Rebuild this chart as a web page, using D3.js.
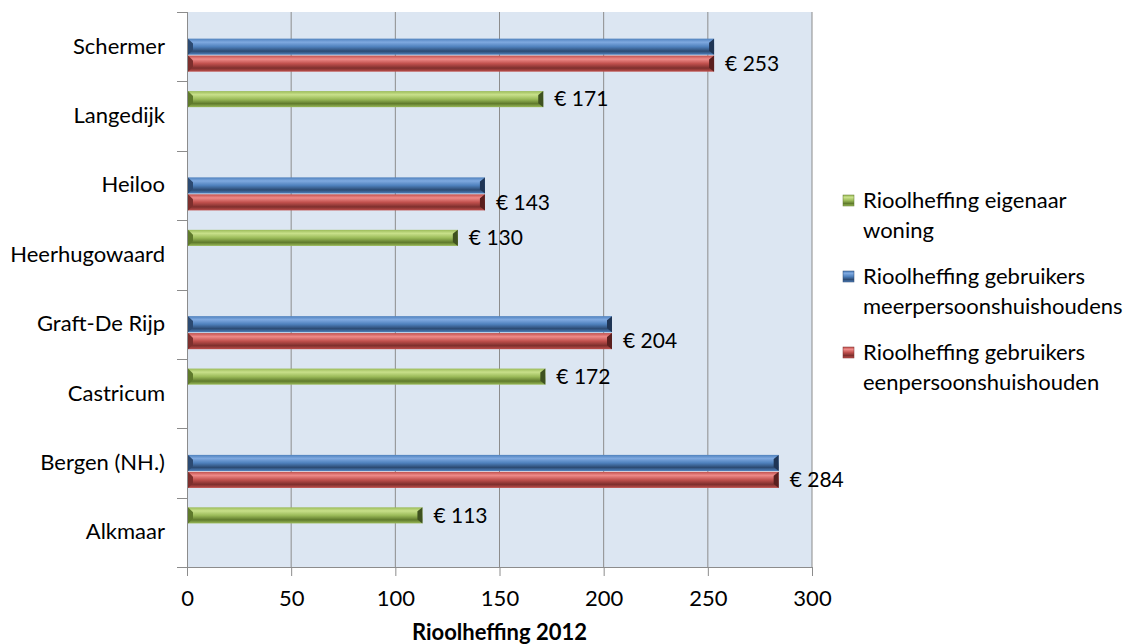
<!DOCTYPE html>
<html>
<head>
<meta charset="utf-8">
<script src="https://cdn.jsdelivr.net/npm/d3@7"></script>
<style>
  body { margin:0; background:#fff; }
  text { font-family: Lato, "Open Sans", sans-serif; fill:#000; }
</style>
</head>
<body>
<div id="chart-area"></div>
<script>
// Data
var categories = ["Schermer", "Langedijk", "Heiloo", "Heerhugowaard", "Graft-De Rijp", "Castricum", "Bergen (NH.)", "Alkmaar"];
var seriesNames = ["Rioolheffing eigenaar woning", "Rioolheffing gebruikers meerpersoonshuishoudens", "Rioolheffing gebruikers eenpersoonshuishouden"];
var eigenaar   = [null, 171, null, 130, null, 172, null, 113];
var meer       = [253, null, 143, null, 204, null, 284, null];
var een        = [253, null, 143, null, 204, null, 284, null];
var xTicks = [0, 50, 100, 150, 200, 250, 300];
var legendLines = [["Rioolheffing eigenaar", "woning"], ["Rioolheffing gebruikers", "meerpersoonshuishoudens"], ["Rioolheffing gebruikers", "eenpersoonshuishouden"]];

var colors = [
  { top:"#c8e08a", mid:"#9bbb59", bot:"#5f7a2c", end:"#3f5220" },
  { top:"#7fa9e0", mid:"#4f81bd", bot:"#2c4a72", end:"#1f3555" },
  { top:"#ee8a88", mid:"#c0504d", bot:"#7d2f2d", end:"#5a1f1e" }
];

var W = 1129, H = 644;
var plot = { left:187, right:812, top:12, bottom:567 };

var svg = d3.select("#chart-area").append("svg")
  .attr("width", W).attr("height", H);

// gradients
var defs = svg.append("defs");
colors.forEach(function(c, i){
  var gr = defs.append("linearGradient").attr("id", "g" + i)
    .attr("x1", 0).attr("y1", 0).attr("x2", 0).attr("y2", 1);
  gr.append("stop").attr("offset", "0%").attr("stop-color", c.mid);
  gr.append("stop").attr("offset", "22%").attr("stop-color", c.top);
  gr.append("stop").attr("offset", "50%").attr("stop-color", c.mid);
  gr.append("stop").attr("offset", "78%").attr("stop-color", c.bot);
  gr.append("stop").attr("offset", "100%").attr("stop-color", c.mid);
});

// Scales
var x = d3.scaleLinear().domain([0, 300]).range([plot.left, plot.right]);
var y = d3.scaleBand().domain(categories).range([plot.top, plot.bottom]);
var ySub = d3.scaleBand().domain([0, 1, 2])
  .range([y.bandwidth() * 0.14, y.bandwidth() * 0.86]).paddingInner(0.05);

// plot background
svg.append("rect")
  .attr("x", plot.left).attr("y", plot.top)
  .attr("width", plot.right - plot.left).attr("height", plot.bottom - plot.top)
  .attr("fill", "#dce6f2");

// grid
svg.selectAll(".grid").data(xTicks.slice(1)).enter().append("line")
  .attr("x1", function(d){ return x(d); }).attr("x2", function(d){ return x(d); })
  .attr("y1", plot.top).attr("y2", plot.bottom)
  .attr("stroke", "#8c8c8c").attr("stroke-width", 1);

// Axes
var xAxis = d3.axisBottom(x).tickValues(xTicks).tickSize(9).tickPadding(14);
var gx = svg.append("g").attr("transform", "translate(0," + plot.bottom + ")").call(xAxis);
gx.select(".domain").attr("stroke", "#8c8c8c").attr("d", "M" + (plot.left - 10) + ",0.5H" + plot.right);
gx.selectAll(".tick line").attr("stroke", "#8c8c8c");
gx.selectAll(".tick text").attr("font-size", "22px").attr("font-family", "Lato, sans-serif").attr("fill", "#000");

var yAxis = d3.axisLeft(y).tickSize(0).tickPadding(22);
var gy = svg.append("g").attr("transform", "translate(" + plot.left + ",0)").call(yAxis);
gy.select(".domain").attr("stroke", "#8c8c8c").attr("d", "M0.5," + plot.top + "V" + plot.bottom);
gy.selectAll(".tick text").attr("font-size", "22px").attr("font-family", "Lato, sans-serif").attr("fill", "#000");

// category boundary ticks
var bounds = categories.map(function(c){ return y(c); });
svg.selectAll(".ctick").data(bounds).enter().append("line")
  .attr("x1", plot.left - 10).attr("x2", plot.left)
  .attr("y1", function(d){ return Math.round(d) + 0.5; }).attr("y2", function(d){ return Math.round(d) + 0.5; })
  .attr("stroke", "#8c8c8c");

// Bars
var seriesData = [eigenaar, meer, een];
var bars = [];
seriesData.forEach(function(vals, s){
  vals.forEach(function(v, i){
    if (v !== null) bars.push({ s:s, cat:categories[i], v:v });
  });
});

var bh = ySub.bandwidth();
var barG = svg.selectAll(".bar").data(bars).enter().append("g")
  .attr("transform", function(d){ return "translate(0," + (y(d.cat) + ySub(d.s)) + ")"; });

barG.append("rect")
  .attr("x", x(0) + 1).attr("y", 0)
  .attr("width", function(d){ return x(d.v) - x(0) - 1; })
  .attr("height", bh)
  .attr("fill", function(d){ return "url(#g" + d.s + ")"; });

// right end cap (bevel)
barG.append("path")
  .attr("d", function(d){
    var xe = x(d.v);
    return "M" + (xe - 5) + "," + (bh * 0.25) + "L" + xe + ",0L" + xe + "," + bh + "L" + (xe - 5) + "," + (bh * 0.75) + "Z";
  })
  .attr("fill", function(d){ return colors[d.s].end; });

// left notch
barG.append("path")
  .attr("d", function(d){
    var xs = x(0) + 1;
    return "M" + xs + ",0L" + (xs + 5) + "," + (bh * 0.3) + "L" + (xs + 5) + "," + (bh * 0.7) + "L" + xs + "," + bh + "Z";
  })
  .attr("fill", function(d){ return colors[d.s].bot; });

// Data labels (green and red bars only)
svg.selectAll(".lbl").data(bars.filter(function(d){ return d.s !== 1; })).enter().append("text")
  .attr("x", function(d){ return x(d.v) + 11; })
  .attr("y", function(d){ return y(d.cat) + ySub(d.s) + bh / 2; })
  .attr("dy", "0.35em")
  .attr("font-size", "21px")
  .text(function(d){ return "\u20ac " + d.v; });

// X axis title
svg.append("text")
  .attr("x", (plot.left + plot.right) / 2).attr("y", 640)
  .attr("text-anchor", "middle")
  .attr("font-size", "22px").attr("font-weight", "bold")
  .text("Rioolheffing 2012");

// Legend
var legend = svg.selectAll(".legend").data(legendLines).enter().append("g")
  .attr("transform", function(d, i){ return "translate(843," + (200 + i * 76) + ")"; });

legend.append("rect")
  .attr("x", 0).attr("y", -5).attr("width", 11).attr("height", 11)
  .attr("fill", function(d, i){ return "url(#g" + i + ")"; })
  .attr("stroke", function(d, i){ return colors[i].bot; }).attr("stroke-width", 0.5);

legend.append("text")
  .attr("x", 20).attr("y", 0).attr("dy", "0.35em")
  .attr("font-size", "22px")
  .text(function(d){ return d[0]; });
legend.append("text")
  .attr("x", 20).attr("y", 30).attr("dy", "0.35em")
  .attr("font-size", "22px")
  .text(function(d){ return d[1]; });
</script>
</body>
</html>
